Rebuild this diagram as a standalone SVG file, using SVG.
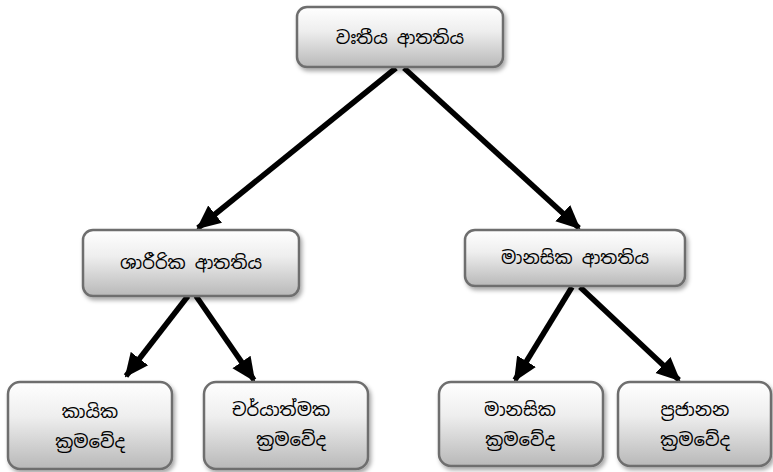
<svg xmlns="http://www.w3.org/2000/svg" width="773" height="472" viewBox="0 0 773 472">
<defs>
<linearGradient id="g" x1="0" y1="0" x2="0" y2="1">
<stop offset="0" stop-color="#ffffff"/>
<stop offset="0.4" stop-color="#eeeeee"/>
<stop offset="1" stop-color="#b8b8b8"/>
</linearGradient>
<filter id="sh" x="-10%" y="-10%" width="130%" height="140%">
<feDropShadow dx="2" dy="3" stdDeviation="2" flood-color="#000" flood-opacity="0.35"/>
</filter>
<marker id="ah" markerUnits="userSpaceOnUse" markerWidth="24" markerHeight="24" viewBox="0 0 24 24" refX="22" refY="12" orient="auto">
<path d="M0,1 L24,12 L0,23 Z" fill="#000"/>
</marker>
</defs>
<style>
.box{fill:url(#g);stroke:#6e6e6e;stroke-width:2.5;filter:url(#sh)}
.t{font-family:"Noto Sans Sinhala","Iskoola Pota","Noto Sans",sans-serif;font-size:18px;fill:#000;text-anchor:middle}
.c{stroke:#000;stroke-width:5.5;fill:none;marker-end:url(#ah)}
</style>
<g id="connectors">
<line class="c" x1="396" y1="68" x2="198" y2="228"/>
<line class="c" x1="404" y1="68" x2="579" y2="228"/>
<line class="c" x1="188" y1="296" x2="126" y2="376"/>
<line class="c" x1="196" y1="296" x2="254" y2="380"/>
<line class="c" x1="572" y1="287" x2="515" y2="380"/>
<line class="c" x1="580" y1="287" x2="679" y2="380"/>
</g>
<g id="n_top">
<rect class="box" x="297" y="7" width="206" height="60" rx="10"/>
<text class="t" x="400" y="44">වඃතීය ආතතිය</text>
</g>
<g id="n_left">
<rect class="box" x="83" y="230" width="216" height="66" rx="10"/>
<text class="t" x="191" y="269">ශාරීරික ආතතිය</text>
</g>
<g id="n_right">
<rect class="box" x="465" y="230" width="220" height="56" rx="10"/>
<text class="t" x="575" y="264">මානසික ආතතිය</text>
</g>
<g id="n_b1">
<rect class="box" x="8" y="382" width="164" height="87" rx="12"/>
<text class="t" x="90" y="418">කායික</text>
<text class="t" x="90" y="448">ක්‍රමවේද</text>
</g>
<g id="n_b2">
<rect class="box" x="204" y="382" width="164" height="87" rx="12"/>
<text class="t" x="281" y="416">චර්යාත්මක</text>
<text class="t" x="291" y="446">ක්‍රමවේද</text>
</g>
<g id="n_b3">
<rect class="box" x="439" y="382" width="164" height="84" rx="12"/>
<text class="t" x="520" y="416">මානසික</text>
<text class="t" x="520" y="446">ක්‍රමවේද</text>
</g>
<g id="n_b4">
<rect class="box" x="618" y="382" width="153" height="84" rx="12"/>
<text class="t" x="695" y="416">ප්‍රජානන</text>
<text class="t" x="695" y="446">ක්‍රමවේද</text>
</g>
</svg>
